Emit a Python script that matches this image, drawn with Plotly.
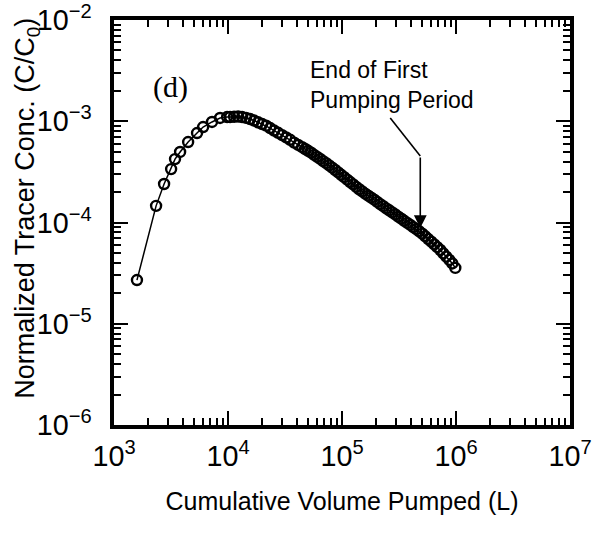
import math
import plotly.graph_objects as go

# Cumulative volume pumped (L) and normalized tracer concentration (C/C0)
VOLUME = [1590, 2340, 2750, 3170, 3430, 3800, 4470, 5350, 6050, 7240, 8520, 9820,
          10430, 11310, 12270, 13300, 14420, 15630, 16950, 18380, 19930, 21600,
          23420, 25390, 27540, 29850, 32370, 35100, 38050, 41260,
          44730, 47540, 50480, 53640, 57000, 60570, 64370, 68380, 72660, 77210,
          82040, 87160, 92600, 98400, 104500, 111100, 118000, 125400, 133300, 141600,
          150400, 159800, 169800, 180400, 191800, 203700, 216500, 230000, 244400, 259700,
          275900, 293200, 311500, 331100, 351700, 373700, 397200, 421900, 448300, 476300,
          506000, 537800, 571300, 607000, 645200, 685500, 728600, 774000, 822200, 873700,
          928200, 986000]
CONC = [2.70e-5, 1.46e-4, 2.40e-4, 3.37e-4, 4.23e-4, 4.97e-4, 6.23e-4, 7.65e-4, 8.77e-4,
        9.84e-4, 1.077e-3, 1.10e-3,
        1.101e-3, 1.106e-3, 1.114e-3, 1.101e-3, 1.081e-3, 1.052e-3, 1.016e-3, 9.76e-4,
        9.39e-4, 9.05e-4, 8.57e-4, 8.10e-4, 7.69e-4, 7.30e-4, 6.92e-4, 6.56e-4, 6.15e-4, 5.83e-4,
        5.54e-4, 5.32e-4, 5.11e-4, 4.89e-4, 4.66e-4, 4.45e-4, 4.24e-4, 4.04e-4, 3.85e-4, 3.67e-4,
        3.48e-4, 3.30e-4, 3.13e-4, 2.96e-4, 2.80e-4, 2.65e-4, 2.51e-4, 2.38e-4, 2.25e-4, 2.13e-4,
        2.03e-4, 1.93e-4, 1.84e-4, 1.76e-4, 1.68e-4, 1.60e-4, 1.52e-4, 1.45e-4, 1.38e-4, 1.32e-4,
        1.26e-4, 1.20e-4, 1.14e-4, 1.09e-4, 1.04e-4, 9.91e-5, 9.45e-5, 9.01e-5, 8.59e-5, 8.19e-5,
        7.77e-5, 7.31e-5, 6.87e-5, 6.46e-5, 6.08e-5, 5.71e-5, 5.35e-5, 4.96e-5, 4.60e-5, 4.27e-5,
        3.94e-5, 3.56e-5]
assert len(VOLUME) == len(CONC)

X_RANGE = [1e3, 1e7]
Y_RANGE = [1e-6, 1e-2]

PANEL_LABEL = "(d)"
PANEL_POS = (3.16e3, 2.18e-3)
NOTE_TEXT = "End of First<br>Pumping Period"
NOTE_POS = (5.05e4, 2.28e-3)
# arrow: from ARROW_START diagonally to ARROW_BEND, then straight down to ARROW_TIP
ARROW_START = (2.65e5, 1.076e-3)
ARROW_BEND = (4.86e5, 4.54e-4)
ARROW_TIP = (4.86e5, 8.8e-5)

FONT = "Liberation Sans, Arial, sans-serif"

lx0, lx1 = math.log10(X_RANGE[0]), math.log10(X_RANGE[1])
ly0, ly1 = math.log10(Y_RANGE[0]), math.log10(Y_RANGE[1])


def px(v):
    return (math.log10(v) - lx0) / (lx1 - lx0)


def py(v):
    return (math.log10(v) - ly0) / (ly1 - ly0)


fig = go.Figure()
fig.add_trace(go.Scatter(
    x=VOLUME, y=CONC, mode="lines+markers",
    line=dict(color="black", width=1.5),
    marker=dict(symbol="circle-open", size=10, color="black", line=dict(width=2.4)),
    showlegend=False,
))

axis_common = dict(
    type="log", showgrid=False, zeroline=False, automargin=False,
    showline=True, linecolor="black", linewidth=3.5, mirror="ticks",
    ticks="inside", ticklen=14, tickwidth=2, tickcolor="black",
    dtick=1, exponentformat="power", ticklabeloverflow="allow",
    tickfont=dict(family=FONT, size=23, color="black"),
    minor=dict(ticks="inside", ticklen=7, tickwidth=1.5, tickcolor="black", dtick="D1", showgrid=False),
)

fig.update_xaxes(
    range=[lx0, lx1],
    title=dict(text="Cumulative Volume Pumped (L)", font=dict(family=FONT, size=25, color="black"),
               standoff=22),
    ticklabelstandoff=4,
    **axis_common,
)
fig.update_yaxes(
    range=[ly0, ly1],
    ticklabelstandoff=14,
    **axis_common,
)

# y-axis title
fig.add_annotation(
    xref="paper", yref="paper", x=-0.191, y=0.536, showarrow=False, textangle=-90,
    text="Normalized Tracer Conc. (C/C<sub>0</sub>)",
    font=dict(family=FONT, size=27, color="black"),
    xanchor="center", yanchor="middle",
)

fig.add_annotation(
    xref="paper", yref="paper", x=px(PANEL_POS[0]), y=py(PANEL_POS[1]), showarrow=False,
    text=PANEL_LABEL, font=dict(family="Liberation Serif, Times New Roman, serif", size=30, color="black"),
    xanchor="center", yanchor="middle",
)

fig.add_annotation(
    xref="paper", yref="paper", x=px(NOTE_POS[0]), y=py(NOTE_POS[1]), showarrow=False,
    text=NOTE_TEXT, align="left", xanchor="left", yanchor="middle",
    font=dict(family=FONT, size=23, color="black"),
)
fig.add_shape(
    type="line", xref="paper", yref="paper",
    x0=px(ARROW_START[0]), y0=py(ARROW_START[1]),
    x1=px(ARROW_BEND[0]), y1=py(ARROW_BEND[1]),
    line=dict(color="black", width=1.6),
)
fig.add_annotation(
    xref="x domain", yref="y domain", axref="x domain", ayref="y domain",
    x=px(ARROW_TIP[0]), y=py(ARROW_TIP[1]),
    ax=px(ARROW_BEND[0]), ay=py(ARROW_BEND[1]),
    showarrow=True, arrowhead=2, arrowsize=1.6, arrowwidth=1.6, arrowcolor="black", text="",
)

fig.update_layout(
    width=603, height=533,
    margin=dict(l=114, r=33, t=20, b=108),
    paper_bgcolor="white", plot_bgcolor="white",
)

fig.write_html("out.html", config={"displayModeBar": False},
               post_script="document.body.style.margin='0';")
